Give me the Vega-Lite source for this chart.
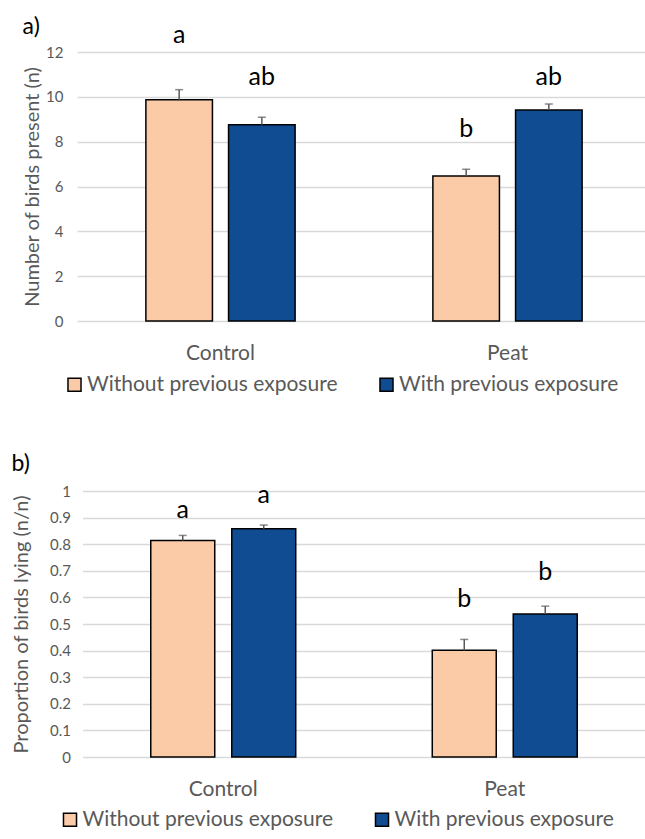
{
  "$schema": "https://vega.github.io/schema/vega-lite/v6.json",
  "background": "white",
  "padding": {"left": 11, "top": 15, "right": 0, "bottom": 0},
  "datasets": {
    "a": [
      {"site": "Control", "group": "Without previous exposure", "value": 9.87, "err_hi": 10.32, "letter": "a", "label_y": 12.41},
      {"site": "Control", "group": "With previous exposure", "value": 8.76, "err_hi": 9.09, "letter": "ab", "label_y": 10.55},
      {"site": "Peat", "group": "Without previous exposure", "value": 6.47, "err_hi": 6.77, "letter": "b", "label_y": 8.2},
      {"site": "Peat", "group": "With previous exposure", "value": 9.41, "err_hi": 9.68, "letter": "ab", "label_y": 10.52}
    ],
    "b": [
      {"site": "Control", "group": "Without previous exposure", "value": 0.814, "err_hi": 0.833, "letter": "a", "label_y": 0.9},
      {"site": "Control", "group": "With previous exposure", "value": 0.858, "err_hi": 0.872, "letter": "a", "label_y": 0.955},
      {"site": "Peat", "group": "Without previous exposure", "value": 0.401, "err_hi": 0.442, "letter": "b", "label_y": 0.565},
      {"site": "Peat", "group": "With previous exposure", "value": 0.538, "err_hi": 0.567, "letter": "b", "label_y": 0.664}
    ]
  },
  "config": {
    "font": "Lato",
    "view": {"stroke": null},
    "axis": {"labelColor": "#595959", "titleColor": "#595959", "gridColor": "#D9D9D9", "gridWidth": 1.5, "ticks": false, "domain": false},
    "title": {"fontWeight": "normal", "color": "black"}
  },
  "spacing": 57,
  "center": true,
  "vconcat": [
    {
      "width": 574,
      "height": 269,
      "title": {"text": "a)", "anchor": "start", "frame": "bounds", "fontSize": 23, "offset": -16},
      "data": {"name": "a"},
      "encoding": {
        "x": {"field": "site", "type": "nominal", "sort": ["Control", "Peat"],
              "scale": {"paddingInner": 0.48, "paddingOuter": 0.24},
              "axis": {"title": null, "labelAngle": 0, "labelFontSize": 21, "labelPadding": 21, "grid": false}},
        "xOffset": {"field": "group", "type": "nominal", "sort": ["Without previous exposure", "With previous exposure"],
                    "scale": {"paddingInner": 0.195, "paddingOuter": 0}}
      },
      "layer": [
        {
          "mark": {"type": "bar", "stroke": "black", "strokeWidth": 1.5},
          "encoding": {
            "y": {"field": "value", "type": "quantitative", "scale": {"domain": [0, 12], "nice": false},
                  "axis": {"title": "Number of birds present (n)", "titleFontSize": 20, "titleFontWeight": "normal", "titlePadding": 3,
                           "values": [0, 2, 4, 6, 8, 10, 12], "labelOverlap": false, "labelFontSize": 15, "labelPadding": 14}},
            "color": {"field": "group", "type": "nominal",
                      "scale": {"domain": ["Without previous exposure", "With previous exposure"], "range": ["#FBCBA8", "#0F4C92"]},
                      "legend": {"orient": "none", "legendX": -13, "legendY": 322, "direction": "horizontal", "title": null,
                                 "symbolType": "square", "symbolSize": 170, "symbolStrokeColor": "black", "symbolStrokeWidth": 1.5,
                                 "labelFontSize": 21, "labelColor": "#595959", "labelLimit": 400, "columnPadding": 38, "labelOffset": 2}}
          }
        },
        {
          "mark": {"type": "rule", "color": "#595959", "strokeWidth": 1.5},
          "encoding": {"y": {"field": "value", "type": "quantitative",
                  "axis": {"title": "Number of birds present (n)", "titleFontSize": 20, "titleFontWeight": "normal", "titlePadding": 3,
                           "values": [0, 2, 4, 6, 8, 10, 12], "labelOverlap": false, "labelFontSize": 15, "labelPadding": 14}}, "y2": {"field": "err_hi"}}
        },
        {
          "mark": {"type": "tick", "orient": "horizontal", "color": "#595959", "size": 8, "thickness": 1.5},
          "encoding": {"y": {"field": "err_hi", "type": "quantitative",
                  "axis": {"title": "Number of birds present (n)", "titleFontSize": 20, "titleFontWeight": "normal", "titlePadding": 3,
                           "values": [0, 2, 4, 6, 8, 10, 12], "labelOverlap": false, "labelFontSize": 15, "labelPadding": 14}}}
        },
        {
          "mark": {"type": "text", "fontSize": 25, "color": "black", "baseline": "alphabetic"},
          "encoding": {"y": {"field": "label_y", "type": "quantitative",
                  "axis": {"title": "Number of birds present (n)", "titleFontSize": 20, "titleFontWeight": "normal", "titlePadding": 3,
                           "values": [0, 2, 4, 6, 8, 10, 12], "labelOverlap": false, "labelFontSize": 15, "labelPadding": 14}}, "text": {"field": "letter"}}
        }
      ]
    },
    {
      "width": 563,
      "height": 266,
      "title": {"text": "b)", "anchor": "start", "frame": "bounds", "fontSize": 23, "offset": 7},
      "data": {"name": "b"},
      "encoding": {
        "x": {"field": "site", "type": "nominal", "sort": ["Control", "Peat"],
              "scale": {"paddingInner": 0.485, "paddingOuter": 0.2425},
              "axis": {"title": null, "labelAngle": 0, "labelFontSize": 21, "labelPadding": 21, "grid": false}},
        "xOffset": {"field": "group", "type": "nominal", "sort": ["Without previous exposure", "With previous exposure"],
                    "scale": {"paddingInner": 0.21, "paddingOuter": 0}}
      },
      "layer": [
        {
          "mark": {"type": "bar", "stroke": "black", "strokeWidth": 1.5},
          "encoding": {
            "y": {"field": "value", "type": "quantitative", "scale": {"domain": [0, 1], "nice": false},
                  "axis": {"title": "Proportion of birds lying (n/n)", "titleFontSize": 20, "titleFontWeight": "normal", "titlePadding": 10, "minExtent": 41,
                           "values": [0, 0.1, 0.2, 0.3, 0.4, 0.5, 0.6, 0.7, 0.8, 0.9, 1], "labelOverlap": false, "format": ".1~f", "labelFontSize": 15, "labelPadding": 12}},
            "color": {"field": "group", "type": "nominal",
                      "scale": {"domain": ["Without previous exposure", "With previous exposure"], "range": ["#FBCBA8", "#0F4C92"]},
                      "legend": {"orient": "none", "legendX": -23, "legendY": 318, "direction": "horizontal", "title": null,
                                 "symbolType": "square", "symbolSize": 170, "symbolStrokeColor": "black", "symbolStrokeWidth": 1.5,
                                 "labelFontSize": 21, "labelColor": "#595959", "labelLimit": 400, "columnPadding": 38, "labelOffset": 2}}
          }
        },
        {
          "mark": {"type": "rule", "color": "#595959", "strokeWidth": 1.5},
          "encoding": {"y": {"field": "value", "type": "quantitative",
                  "axis": {"title": "Proportion of birds lying (n/n)", "titleFontSize": 20, "titleFontWeight": "normal", "titlePadding": 10, "minExtent": 41,
                           "values": [0, 0.1, 0.2, 0.3, 0.4, 0.5, 0.6, 0.7, 0.8, 0.9, 1], "labelOverlap": false, "format": ".1~f", "labelFontSize": 15, "labelPadding": 12}}, "y2": {"field": "err_hi"}}
        },
        {
          "mark": {"type": "tick", "orient": "horizontal", "color": "#595959", "size": 8, "thickness": 1.5},
          "encoding": {"y": {"field": "err_hi", "type": "quantitative",
                  "axis": {"title": "Proportion of birds lying (n/n)", "titleFontSize": 20, "titleFontWeight": "normal", "titlePadding": 10, "minExtent": 41,
                           "values": [0, 0.1, 0.2, 0.3, 0.4, 0.5, 0.6, 0.7, 0.8, 0.9, 1], "labelOverlap": false, "format": ".1~f", "labelFontSize": 15, "labelPadding": 12}}}
        },
        {
          "mark": {"type": "text", "fontSize": 25, "color": "black", "baseline": "alphabetic"},
          "encoding": {"y": {"field": "label_y", "type": "quantitative",
                  "axis": {"title": "Proportion of birds lying (n/n)", "titleFontSize": 20, "titleFontWeight": "normal", "titlePadding": 10, "minExtent": 41,
                           "values": [0, 0.1, 0.2, 0.3, 0.4, 0.5, 0.6, 0.7, 0.8, 0.9, 1], "labelOverlap": false, "format": ".1~f", "labelFontSize": 15, "labelPadding": 12}}, "text": {"field": "letter"}}
        }
      ]
    }
  ],
  "resolve": {"scale": {"color": "independent", "y": "independent", "x": "independent", "xOffset": "independent"}, "legend": {"color": "independent"}}
}
